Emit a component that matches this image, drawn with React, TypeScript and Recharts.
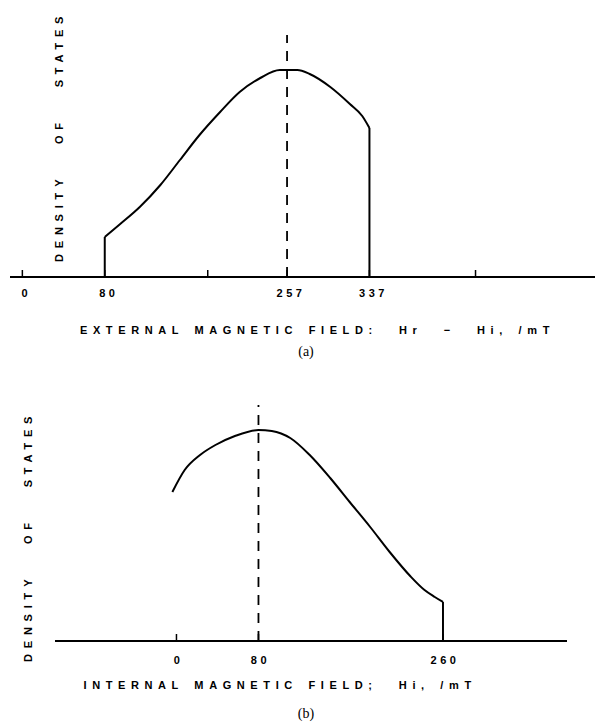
import React from 'react';
import { LineChart, Line, XAxis, YAxis, ReferenceLine } from 'recharts';

// Panel (a): density of states vs external magnetic field Hr - Hi (mT), arbitrary units
const extField = [80, 95, 114, 134, 153, 172, 192, 211, 231, 250, 267, 279, 299, 318, 330, 337];
const extDensity = [40, 53, 70, 92, 117, 142, 165, 185, 199, 207, 207, 203, 190, 173, 161, 149];
const extTicks = [0, 80, 180, 257, 337, 440];
const extTickLabels = ['0', '80', '', '257', '337', ''];
const extPeak = 257;

// Panel (b): density of states vs internal magnetic field Hi (mT), arbitrary units
const intField = [-4, 8, 23, 38, 57, 80, 93, 111, 130, 150, 169, 189, 208, 228, 242, 252, 260];
const intDensity = [149, 171, 186, 196, 205, 211, 210, 203, 186, 163, 139, 114, 89, 65, 51, 44, 39];
const intTicks = [0, 80, 260];
const intTickLabels = ['0', '80', '260'];
const intPeak = 80;

const yTitle = 'DENSITY OF STATES';
const xTitleA = 'EXTERNAL MAGNETIC FIELD:  Hr  \u2212  Hi, /mT';
const xTitleB = 'INTERNAL MAGNETIC FIELD;  Hi, /mT';

const FONT = '"Liberation Sans", Arial, Helvetica, sans-serif';

const toPoints = (xs: number[], ys: number[]) => xs.map((x, i) => ({ x, y: ys[i] }));
const leftEdge = (xs: number[], ys: number[]) => [
  { x: xs[0], y: 0 },
  { x: xs[0], y: ys[0] },
];
const rightEdge = (xs: number[], ys: number[]) => [
  { x: xs[xs.length - 1], y: ys[ys.length - 1] },
  { x: xs[xs.length - 1], y: 0 },
];

const curveA = toPoints(extField, extDensity);
const curveB = toPoints(intField, intDensity);

const makeTick = (ticks: number[], labels: string[], dx: number, dy: number) => (props: any) => {
  const { x, y, payload } = props;
  const idx = ticks.indexOf(payload.value);
  const label = idx >= 0 ? labels[idx] : '';
  return (
    <g>
      <line x1={x} y1={y} x2={x} y2={y - 7} stroke="#000" strokeWidth={1.5} />
      {label ? (
        <text
          x={x + dx}
          y={y + dy}
          textAnchor="middle"
          fontFamily={FONT}
          fontSize={11}
          fontWeight="bold"
          letterSpacing={3.5}
          fill="#000"
        >
          {label}
        </text>
      ) : null}
    </g>
  );
};

// Renders the x-axis title and the rotated y-axis title of one panel
const titles = (text: string, tx: number, tdy: number, bx: number, by: number) => (props: any) => {
  const vb = props.viewBox || { y: 0 };
  return (
    <g>
      <text
        x={tx}
        y={vb.y + tdy}
        textAnchor="start"
        fontFamily={FONT}
        fontSize={11}
        fontWeight="bold"
        letterSpacing={5.6}
        wordSpacing={2}
        fill="#000"
        style={{ whiteSpace: 'pre' }}
      >
        {text}
      </text>
      <text
        x={bx}
        y={by}
        transform={`rotate(-90 ${bx} ${by})`}
        textAnchor="start"
        fontFamily={FONT}
        fontSize={11}
        fontWeight="bold"
        letterSpacing={5.8}
        wordSpacing={21}
        fill="#000"
      >
        {yTitle}
      </text>
    </g>
  );
};

const lineProps = {
  dataKey: 'y',
  stroke: '#000',
  strokeWidth: 2,
  dot: false,
  activeDot: false,
  isAnimationActive: false,
  legendType: 'none' as const,
};

const captionStyle = (top: number, cx: number): React.CSSProperties => ({
  position: 'absolute',
  top,
  left: cx - 50,
  width: 100,
  textAlign: 'center',
  fontFamily: '"Liberation Serif", "Times New Roman", serif',
  fontSize: 14,
  lineHeight: '14px',
  color: '#000',
});

export default function App() {
  return (
    <div style={{ position: 'absolute', left: 0, top: 0, width: 595, height: 723, background: '#fff' }}>
      <div style={{ position: 'absolute', left: 0, top: 0 }}>
        <LineChart width={595} height={370} margin={{ top: 35, right: 0, bottom: 0, left: 10 }}>
          <XAxis
            type="number"
            dataKey="x"
            domain={[-12, 556]}
            allowDataOverflow
            ticks={extTicks}
            interval={0}
            height={93}
            tickSize={0}
            tickMargin={0}
            tickLine={false}
            axisLine={{ stroke: '#000', strokeWidth: 2 }}
            tick={makeTick(extTicks, extTickLabels, 4, 20)}
            label={titles(xTitleA, 80, 57, 62.8, 262)}
          />
          <YAxis
            type="number"
            dataKey="y"
            domain={[0, 242]}
            allowDataOverflow
            width={0}
            tick={false}
            tickLine={false}
            axisLine={false}
          />
          <ReferenceLine x={extPeak} stroke="#000" strokeWidth={1.8} strokeDasharray="10 8" />
          <Line data={curveA} type="monotone" {...lineProps} />
          <Line data={leftEdge(extField, extDensity)} type="linear" {...lineProps} />
          <Line data={rightEdge(extField, extDensity)} type="linear" {...lineProps} />
        </LineChart>
      </div>
      <div style={captionStyle(345, 306)}>(a)</div>

      <div style={{ position: 'absolute', left: 0, top: 370 }}>
        <LineChart width={595} height={353} margin={{ top: 35, right: 28, bottom: 0, left: 55 }}>
          <XAxis
            type="number"
            dataKey="x"
            domain={[-118.5, 381]}
            allowDataOverflow
            ticks={intTicks}
            interval={0}
            height={82}
            tickSize={0}
            tickMargin={0}
            tickLine={false}
            axisLine={{ stroke: '#000', strokeWidth: 2 }}
            tick={makeTick(intTicks, intTickLabels, 2, 23)}
            label={titles(xTitleB, 83.5, 48, 31.8, 292)}
          />
          <YAxis
            type="number"
            dataKey="y"
            domain={[0, 236]}
            allowDataOverflow
            width={0}
            tick={false}
            tickLine={false}
            axisLine={false}
          />
          <ReferenceLine x={intPeak} stroke="#000" strokeWidth={1.8} strokeDasharray="10 8" />
          <Line data={curveB} type="monotone" {...lineProps} />
          <Line data={rightEdge(intField, intDensity)} type="linear" {...lineProps} />
        </LineChart>
      </div>
      <div style={captionStyle(707, 306)}>(b)</div>
    </div>
  );
}
